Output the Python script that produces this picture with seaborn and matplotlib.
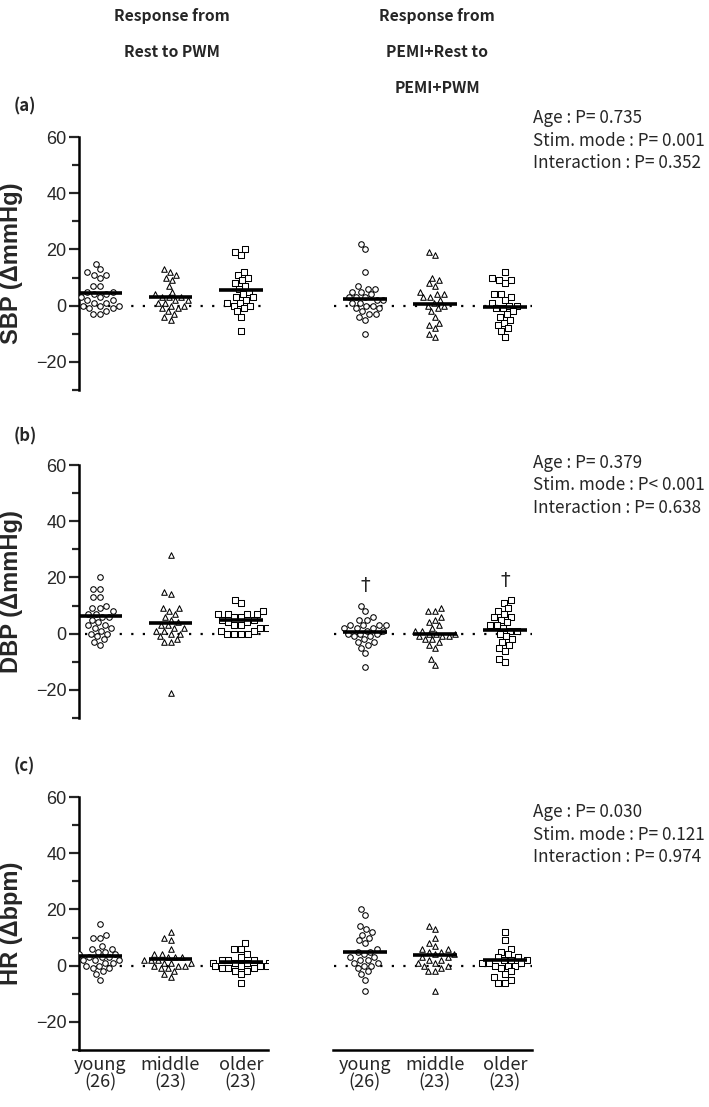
import matplotlib
matplotlib.use('Agg')
import matplotlib.pyplot as plt
from matplotlib.ticker import MultipleLocator
import numpy as np
import pandas as pd
import seaborn as sns

# groups, sample sizes and marker per group
groups = ['young', 'middle', 'older']
group_n = [26, 23, 23]
markers = ['o', '^', 's']

# SBP change, rest -> PWM and PEMI+rest -> PEMI+PWM
sbp_pwm_young = [15, 13, 12, 11, 11, 10, 7, 7, 5, 5, 4, 4, 3, 3, 2, 2, 1, 1,
                 0, 0, 0, -1, -1, -2, -3, -3]
sbp_pwm_middle = [13, 12, 11, 10, 9, 7, 5, 4, 3, 3, 3, 2, 2, 1, 1, 0, 0, -1,
                  -1, -2, -3, -4, -5]
sbp_pwm_older = [20, 19, 18, 12, 11, 10, 9, 8, 7, 6, 5, 4, 3, 3, 2, 1, 1, 0,
                 0, -1, -2, -4, -9]
sbp_pemi_young = [22, 20, 12, 7, 6, 6, 5, 5, 4, 3, 3, 3, 2, 2, 1, 1, 0, 0,
                  -1, -1, -2, -3, -3, -4, -5, -10]
sbp_pemi_middle = [19, 18, 10, 9, 8, 7, 5, 4, 4, 3, 3, 2, 1, 0, 0, -1, -2,
                   -4, -6, -7, -8, -10, -11]
sbp_pemi_older = [12, 10, 9, 9, 8, 4, 4, 3, 2, 1, 0, 0, -1, -1, -2, -3, -4,
                  -5, -6, -7, -8, -9, -11]

# DBP change
dbp_pwm_young = [20, 16, 16, 13, 13, 10, 9, 9, 8, 7, 7, 6, 6, 5, 4, 3, 3, 2,
                 2, 1, 0, 0, -1, -2, -3, -4]
dbp_pwm_middle = [28, 15, 14, 9, 9, 8, 7, 6, 5, 4, 3, 3, 2, 2, 1, 1, 0, 0,
                  -1, -2, -3, -3, -21]
dbp_pwm_older = [12, 11, 8, 7, 7, 7, 7, 6, 6, 5, 5, 4, 4, 3, 3, 2, 2, 1, 1,
                 0, 0, 0, 0]
dbp_pemi_young = [10, 8, 6, 5, 5, 3, 3, 3, 3, 2, 2, 2, 1, 1, 0, 0, 0, -1,
                  -1, -2, -3, -3, -4, -5, -7, -12]
dbp_pemi_middle = [9, 8, 8, 6, 5, 4, 3, 2, 1, 1, 0, 0, 0, -1, -1, -1, -2,
                   -2, -3, -4, -5, -9, -11]
dbp_pemi_older = [12, 11, 9, 8, 7, 6, 6, 5, 4, 3, 3, 2, 1, 1, 0, -1, -2, -3,
                  -4, -5, -6, -9, -10]

# HR change
hr_pwm_young = [15, 11, 10, 10, 7, 6, 6, 5, 5, 4, 4, 3, 3, 3, 2, 2, 2, 1, 1,
                0, 0, -1, -1, -2, -3, -5]
hr_pwm_middle = [12, 10, 9, 6, 4, 4, 3, 3, 3, 2, 2, 2, 1, 1, 1, 0, 0, 0, -1,
                 -1, -2, -3, -4]
hr_pwm_older = [8, 6, 6, 4, 3, 2, 2, 2, 1, 1, 1, 1, 0, 0, 0, 0, -1, -1, -1,
                -2, -2, -3, -6]
hr_pemi_young = [20, 18, 14, 13, 12, 11, 10, 9, 8, 6, 5, 5, 4, 3, 3, 2, 2, 1,
                 1, 0, 0, -1, -2, -3, -5, -9]
hr_pemi_middle = [14, 13, 10, 8, 7, 6, 6, 5, 5, 4, 4, 3, 3, 2, 2, 1, 1, 0, 0,
                  -1, -2, -2, -9]
hr_pemi_older = [12, 9, 6, 5, 4, 3, 3, 2, 2, 2, 1, 1, 1, 0, 0, 0, -1, -2, -3,
                 -4, -5, -6, -6]

# group means (horizontal bars)
sbp_pwm_mean = [4.4, 3.1, 5.7]
sbp_pemi_mean = [2.4, 0.5, -0.3]
dbp_pwm_mean = [6.3, 3.9, 4.8]
dbp_pemi_mean = [0.7, -0.1, 1.4]
hr_pwm_mean = [3.5, 2.4, 1.2]
hr_pemi_mean = [4.8, 3.7, 2.1]

# two-way anova results
sbp_stats = ['Age : P= 0.735', 'Stim. mode : P= 0.001',
             'Interaction : P= 0.352']
dbp_stats = ['Age : P= 0.379', 'Stim. mode : P< 0.001',
             'Interaction : P= 0.638']
hr_stats = ['Age : P= 0.030', 'Stim. mode : P= 0.121',
            'Interaction : P= 0.974']

# dagger marks in DBP PEMI panel (group index, y)
dbp_dagger_pos = [(0, 17), (2, 19)]

headers = [['Response from', 'Rest to PWM'],
           ['Response from', 'PEMI+Rest to', 'PEMI+PWM']]
ylabels = ['SBP (\u0394mmHg)', 'DBP (\u0394mmHg)', 'HR (\u0394bpm)']
panel_tags = ['(a)', '(b)', '(c)']

rows = [
    ([sbp_pwm_young, sbp_pwm_middle, sbp_pwm_older],
     [sbp_pemi_young, sbp_pemi_middle, sbp_pemi_older],
     sbp_pwm_mean, sbp_pemi_mean, sbp_stats),
    ([dbp_pwm_young, dbp_pwm_middle, dbp_pwm_older],
     [dbp_pemi_young, dbp_pemi_middle, dbp_pemi_older],
     dbp_pwm_mean, dbp_pemi_mean, dbp_stats),
    ([hr_pwm_young, hr_pwm_middle, hr_pwm_older],
     [hr_pemi_young, hr_pemi_middle, hr_pemi_older],
     hr_pwm_mean, hr_pemi_mean, hr_stats),
]

sns.set_style('white')
plt.rcParams['font.family'] = ['Liberation Sans', 'DejaVu Sans']
jp = ['Noto Sans CJK JP', 'DejaVu Sans']

W, H = 709, 1107
fig = plt.figure(figsize=(W / 100, H / 100), dpi=100)


def fxy(x, y):
    # pixel position -> figure fraction
    return x / W, 1 - y / H


row_bottom = [390, 718, 1050]
row_h = 253


def draw_cloud(ax, series, means, xlo, xhi):
    df = pd.DataFrame({'group': np.repeat(groups, [len(s) for s in series]),
                       'value': np.concatenate(series)})
    for g, m in zip(groups, markers):
        sns.swarmplot(data=df[df.group == g], x='group', y='value',
                      order=groups, marker=m, size=4.0, color='white',
                      edgecolor='black', linewidth=0.75, ax=ax, zorder=3,
                      warn_thresh=1)
    ax.hlines(0, xlo, xhi, colors='black', linestyles=(0, (1, 4.2)),
              linewidth=1.6, zorder=1)
    ax.hlines(means, np.arange(3) - 0.31, np.arange(3) + 0.31,
              colors='black', linewidth=2.6, zorder=4)


for r, (left_series, right_series, m_left, m_right, stats) in enumerate(rows):
    bottom = 1 - row_bottom[r] / H
    axl = fig.add_axes([79 / W, bottom, 189 / W, row_h / H])
    axr = fig.add_axes([333 / W, bottom, 199 / W, row_h / H])

    draw_cloud(axl, left_series, m_left, -0.21, 2.35)
    draw_cloud(axr, right_series, m_right, -0.44, 2.38)

    for ax in (axl, axr):
        ax.set_ylim(-30, 60)
        ax.set_xlabel('')
        ax.set_ylabel('')
        for s in ('top', 'right'):
            ax.spines[s].set_visible(False)
        for s in ax.spines.values():
            s.set_linewidth(1.8)
            s.set_color('black')
    axl.set_xlim(-0.298, 2.383)
    axr.set_xlim(-0.457, 2.386)

    axl.yaxis.set_major_locator(MultipleLocator(20))
    axl.yaxis.set_minor_locator(MultipleLocator(10))
    axl.tick_params(axis='y', which='major', length=7, width=1.6,
                    labelsize=13, pad=2, left=True)
    axl.tick_params(axis='y', which='minor', length=5, width=1.6, left=True)
    axl.set_yticks([-20, 0, 20, 40, 60])
    axl.set_yticklabels(['\u221220', '0', '20', '40', '60'])
    axl.set_ylabel(ylabels[r], fontsize=17, fontweight='bold', labelpad=9)

    axr.spines['left'].set_visible(False)
    axr.set_yticks([])

    if r < 2:
        for ax in (axl, axr):
            ax.spines['bottom'].set_visible(False)
            ax.set_xticks([])
    else:
        for ax in (axl, axr):
            ax.set_xticks(range(3))
            ax.set_xticklabels(['%s\n(%d)' % (g, n)
                                for g, n in zip(groups, group_n)],
                               family=jp, fontsize=13, linespacing=1.0)
            ax.tick_params(axis='x', length=0, pad=4)

    if r == 1:
        for gi, yv in dbp_dagger_pos:
            axr.text(gi, yv, '\u2020', ha='center', va='center',
                     fontsize=14, family=['DejaVu Sans'])

    # panel tag and statistics
    top = 137 + r * 330
    fig.text(*fxy(14, top - 31), panel_tags[r], fontsize=12,
             fontweight='bold', family=jp, ha='left', va='center')
    stat_y0 = [118, 463, 812][r]
    for k, line in enumerate(stats):
        fig.text(*fxy(533, stat_y0 + 22.5 * k), line, fontsize=12.3,
                 family=jp, ha='left', va='center')

# column headers
for cx, lines in zip([172, 437], headers):
    for k, line in enumerate(lines):
        fig.text(*fxy(cx, 16 + 36 * k), line, fontsize=11.3,
                 fontweight='bold', family=jp, ha='center', va='center')

fig.savefig('out.png', dpi=100)
